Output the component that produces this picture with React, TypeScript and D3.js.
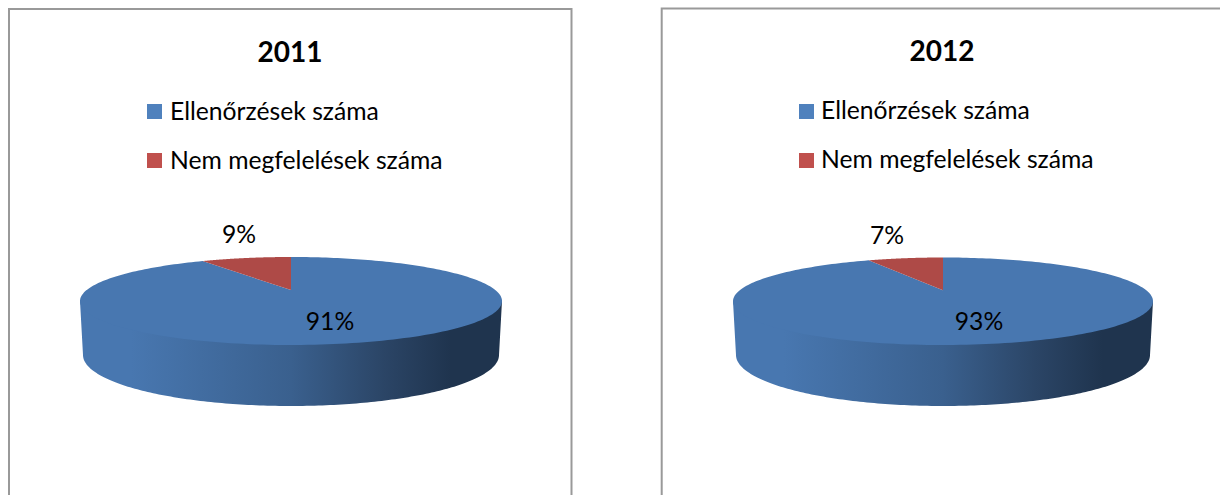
import React from "react";
import * as d3 from "d3";

const categories = ["Ellenőrzések száma", "Nem megfelelések száma"];
const years = ["2011", "2012"];
const values2011 = [91.2, 8.8];
const values2012 = [92.6, 7.4];
const seriesByYear = [values2011, values2012];

const legendColors = ["#4f81bd", "#c0504d"];
const faceColors = ["#4877b0", "#ae4a47"];

const FONT = "Lato, 'Open Sans', sans-serif";
const W = 1220;
const H = 495;
const PERSPECTIVE = 0.25;

const layouts = [
  { frameX: 9, frameY: 9, frameW: 562.5, cx: 291, rx: 211, topMinY: 257, topMaxY: 345, wallRx: 208, wallCy: 355, wallRy: 51, titleX: 290, titleY: 62, legendX: 147, legendY: [104, 153], textX: 170, textY: [120, 169], labelPos: [[330, 330], [239, 243]] },
  { frameX: 661.7, frameY: 8.5, frameW: 590, cx: 943, rx: 210, topMinY: 257.5, topMaxY: 345, wallRx: 207, wallCy: 355, wallRy: 51, titleX: 942, titleY: 61, legendX: 799, legendY: [104, 153], textX: 821, textY: [119, 168], labelPos: [[979, 330], [887, 244]] },
];

// Projects a point of the pie's circle on to the tilted disc (perspective ellipse).
function projector(cx: number, rx: number, cy: number, ry: number) {
  const k = PERSPECTIVE;
  const A = rx * Math.sqrt(1 - k * k);
  const B = ry * (1 - k * k);
  const apexY = cy - ry * k;
  return (angle: number, r = 1): [number, number] => {
    const u = r * Math.sin(angle);
    const v = r * Math.cos(angle);
    const w = 1 + k * v;
    return [cx + (A * u) / w, apexY - (B * v) / w];
  };
}

const lineGen = d3.line<[number, number]>();

function Panel({ index }: { index: number }) {
  const L = layouts[index];
  const values = seriesByYear[index];
  const total = d3.sum(values);
  const cyTop = (L.topMinY + L.topMaxY) / 2;
  const ryTop = (L.topMaxY - L.topMinY) / 2;
  const top = projector(L.cx, L.rx, cyTop, ryTop);
  const bottom = projector(L.cx, L.wallRx, L.wallCy, L.wallRy);
  const arcs = d3.pie<number>().sort(null).value((d) => d)(values);

  const sweep = (a0: number, a1: number, n = 180) =>
    d3.range(n + 1).map((i) => a0 + ((a1 - a0) * i) / n);

  // Front wall: visible between the two side extremes of the disc.
  // Its upper edge runs just under the top face so no light seam shows.
  const edge = Math.acos(-PERSPECTIVE);
  const wallAngles = sweep(edge, 2 * Math.PI - edge);
  const wall = [
    top(edge),
    ...wallAngles.map((a) => top(a, 0.96)),
    top(2 * Math.PI - edge),
    ...wallAngles.slice().reverse().map((a) => bottom(a)),
  ];
  const gradId = `wall-${index}`;
  const x0 = L.cx - L.rx;
  const x1 = L.cx + L.rx;

  return (
    <g>
      <path
        d={`M${L.frameX},${H + 5}V${L.frameY}H${L.frameX + L.frameW}V${H + 5}`}
        fill="#fff"
        stroke="#999999"
        strokeWidth={2}
      />
      <text x={L.titleX} y={L.titleY} textAnchor="middle" fontFamily={FONT} fontWeight={700} fontSize={28} fill="#000">
        {years[index]}
      </text>
      {categories.map((c, i) => (
        <g key={c}>
          <rect x={L.legendX} y={L.legendY[i]} width={15} height={15} fill={legendColors[i]} />
          <text x={L.textX} y={L.textY[i]} fontFamily={FONT} fontSize={24.7} fill="#000">
            {c}
          </text>
        </g>
      ))}
      <defs>
        <linearGradient id={gradId} gradientUnits="userSpaceOnUse" x1={x0} x2={x1} y1={0} y2={0}>
          <stop offset="0" stopColor="#4877b0" />
          <stop offset="0.12" stopColor="#4877b0" />
          <stop offset="0.5" stopColor="#3a608e" />
          <stop offset="0.72" stopColor="#2b4566" />
          <stop offset="0.88" stopColor="#1f344e" />
          <stop offset="1" stopColor="#1f344e" />
        </linearGradient>
      </defs>
      <path d={lineGen(wall)! + "Z"} fill={`url(#${gradId})`} />
      {arcs.map((a, i) => {
        const pts = [top(0, 0), ...sweep(a.startAngle, a.endAngle, 240).map((t) => top(t))];
        return <path key={i} d={lineGen(pts)! + "Z"} fill={faceColors[i]} />;
      })}
      {arcs.map((a, i) => (
        <text
          key={i}
          x={L.labelPos[i][0]}
          y={L.labelPos[i][1]}
          textAnchor="middle"
          fontFamily={FONT}
          fontSize={24.7}
          fill="#000"
        >
          {d3.format(".0%")(a.value / total)}
        </text>
      ))}
    </g>
  );
}

export default function App() {
  return (
    <svg
      width={W}
      height={H}
      viewBox={`0 0 ${W} ${H}`}
      style={{ position: "absolute", left: 0, top: 0, background: "#fff" }}
    >
      {years.map((y, i) => (
        <Panel key={y} index={i} />
      ))}
    </svg>
  );
}
